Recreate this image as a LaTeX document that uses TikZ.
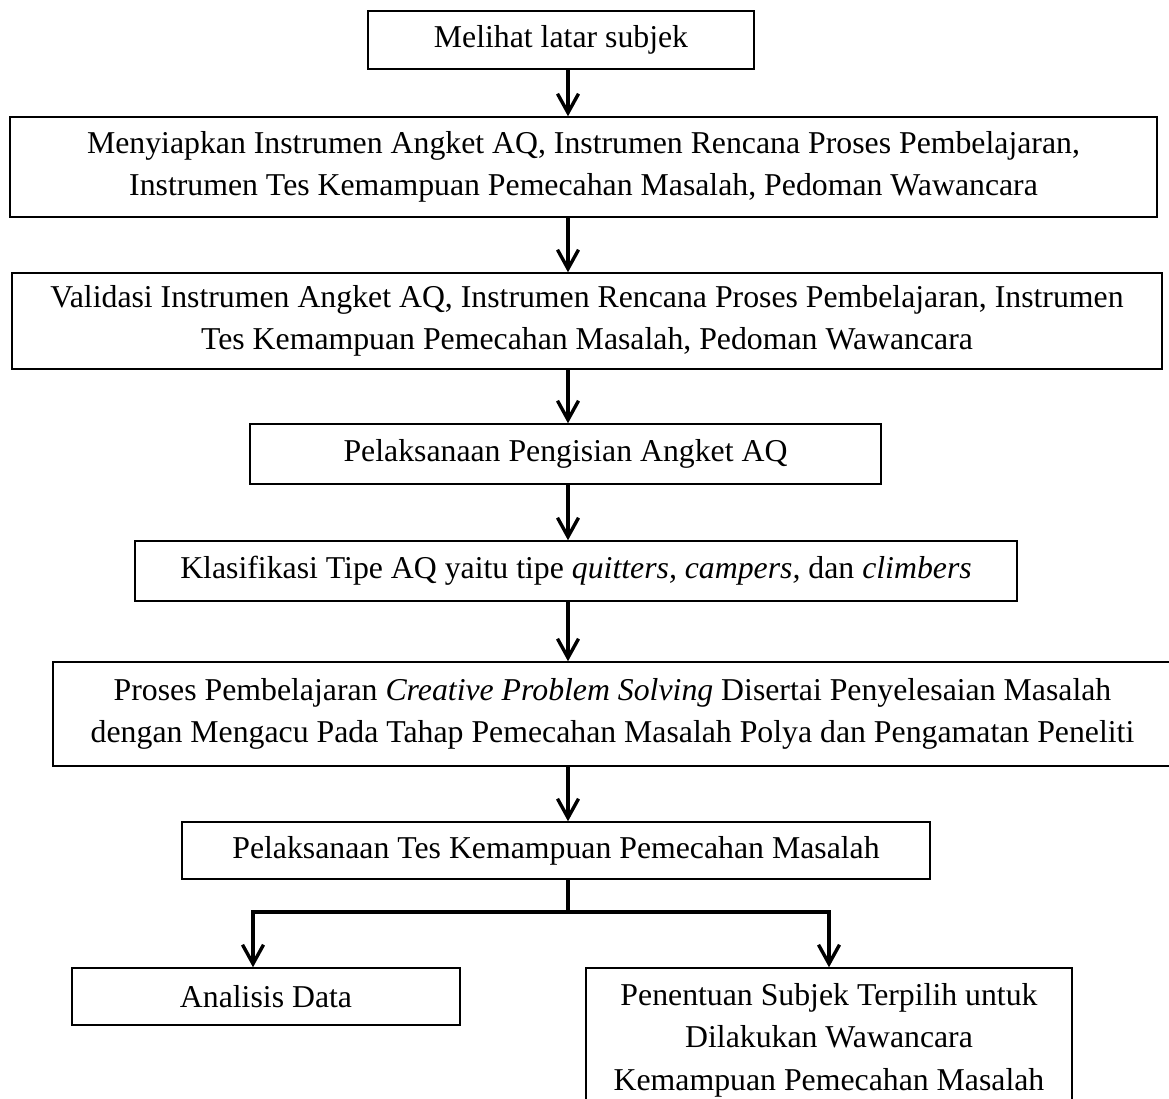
\documentclass[tikz,border=0pt]{standalone}
\usepackage{fontspec}
\setmainfont{Liberation Serif}
\usetikzlibrary{arrows.meta}

\begin{document}
\begin{tikzpicture}[>={Straight Barb[length=19bp,width=21bp]},line join=miter,
  stepbox/.style={draw,line width=1.5bp,inner sep=0pt,align=center,
    font=\fontsize{31.9}{42.7}\selectfont},
  flow/.style={->,line width=3.4bp},
  ]
%%
\useasboundingbox (0bp,0bp) rectangle (1169bp,-1099bp);
\clip (0bp,0bp) rectangle (1169bp,-1099bp);
\coordinate (spine) at (568bp,0bp);
\coordinate (fork_l) at (253bp,-912bp);
\coordinate (fork_r) at (829bp,-912bp);
%
\node (node_1) at (561bp,-40bp) [stepbox,minimum width=386bp,minimum height=58bp] {Melihat latar subjek};
  \node (node_2) at (583.5bp,-167bp) [stepbox,minimum width=1147bp,minimum height=100bp] {Menyiapkan Instrumen Angket AQ, Instrumen Rencana Proses Pembelajaran,\\ Instrumen Tes Kemampuan Pemecahan Masalah, Pedoman Wawancara};
  \node (node_3) at (587bp,-321bp) [stepbox,minimum width=1150bp,minimum height=96bp] {Validasi Instrumen Angket AQ, Instrumen Rencana Proses Pembelajaran, Instrumen\\ Tes Kemampuan Pemecahan Masalah, Pedoman Wawancara};
  \node (node_4) at (565.5bp,-454bp) [stepbox,minimum width=631bp,minimum height=60bp] {Pelaksanaan Pengisian Angket AQ};
  \node (node_5) at (576bp,-571bp) [stepbox,minimum width=882bp,minimum height=60bp] {Klasifikasi Tipe AQ yaitu tipe \textit{quitters, campers,} dan \textit{climbers}};
  \node (node_6) at (612.5bp,-714bp) [stepbox,minimum width=1119bp,minimum height=104bp] {Proses Pembelajaran \textit{Creative Problem Solving} Disertai Penyelesaian Masalah\\ dengan Mengacu Pada Tahap Pemecahan Masalah Polya dan Pengamatan Peneliti};
  \node (node_7) at (556bp,-850.5bp) [stepbox,minimum width=748bp,minimum height=57bp] {Pelaksanaan Tes Kemampuan Pemecahan Masalah};
  \node (node_8) at (266bp,-996.5bp) [stepbox,minimum width=388bp,minimum height=57bp] {Analisis Data};
  \node (node_9) at (829bp,-1040bp) [stepbox,minimum width=486bp,minimum height=144bp] {Penentuan Subjek Terpilih untuk\\ Dilakukan Wawancara\\ Kemampuan Pemecahan Masalah};
%
  \draw [flow] (node_1.south -| spine) -- (node_2.north -| spine);
  \draw [flow] (node_2.south -| spine) -- (node_3.north -| spine);
  \draw [flow] (node_3.south -| spine) -- (node_4.north -| spine);
  \draw [flow] (node_4.south -| spine) -- (node_5.north -| spine);
  \draw [flow] (node_5.south -| spine) -- (node_6.north -| spine);
  \draw [flow] (node_6.south -| spine) -- (node_7.north -| spine);
  \draw [flow] (node_7.south -| spine) |- (fork_l) -- (node_8.north -| fork_l);
  \draw [flow] (node_7.south -| spine) |- (fork_r) -- (node_9.north -| fork_r);
%
\end{tikzpicture}
\end{document}
